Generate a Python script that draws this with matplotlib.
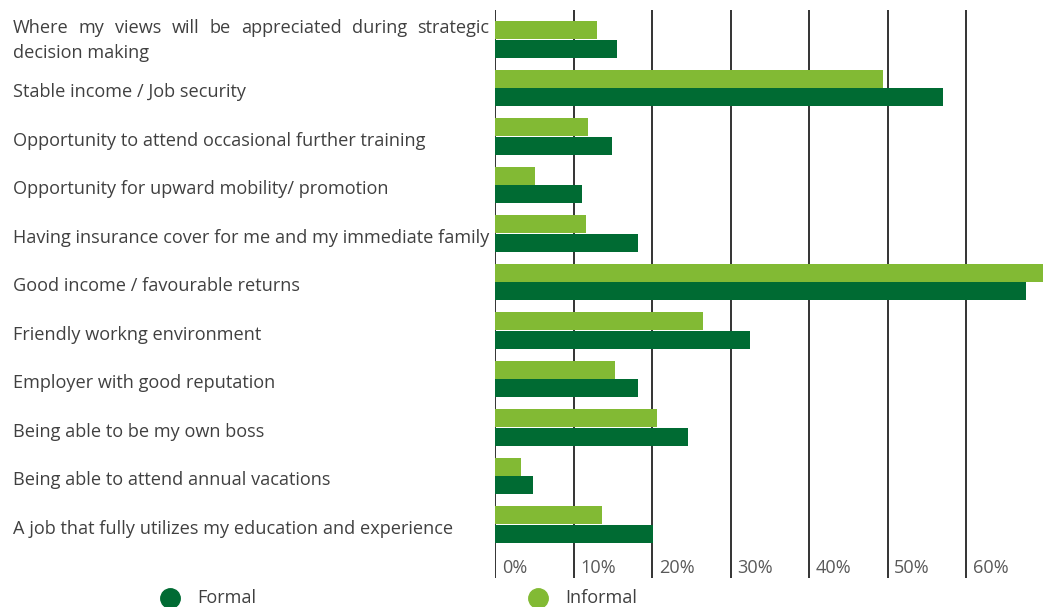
import matplotlib
matplotlib.use("Agg")
import matplotlib.pyplot as plt
import matplotlib.transforms as mtransforms
from matplotlib.lines import Line2D

# data, top to bottom
categories = [
    "Where my views will be appreciated during strategic\ndecision making",
    "Stable income / Job security",
    "Opportunity to attend occasional further training",
    "Opportunity for upward mobility/ promotion",
    "Having insurance cover for me and my immediate family",
    "Good income / favourable returns",
    "Friendly workng environment",
    "Employer with good reputation",
    "Being able to be my own boss",
    "Being able to attend annual vacations",
    "A job that fully utilizes my education and experience",
]
formal = [15.5, 57.1, 14.9, 11.1, 18.2, 67.6, 32.5, 18.2, 24.6, 4.8, 20.1]
informal = [12.9, 49.4, 11.8, 5.1, 11.5, 71.0, 26.5, 15.3, 20.6, 3.3, 13.6]
ticks = [0, 10, 20, 30, 40, 50, 60]
tick_labels = ["0%", "10%", "20%", "30%", "40%", "50%", "60%"]

DARK = "#006B33"
LIGHT = "#82BA34"
TXT = "#404040"
FONT = "Open Sans"
FS = 13.1

W, H = 1043, 607
fig = plt.figure(figsize=(W / 100, H / 100), dpi=100)
ax = fig.add_axes([495 / W, (H - 578) / H, (W - 495) / W, 568 / H])

y = list(range(len(categories)))
bh = 0.377
ax.barh([v - 0.19 for v in y], informal, height=bh, color=LIGHT, zorder=3)
ax.barh([v + 0.19 for v in y], formal, height=bh, color=DARK, zorder=3)

for t in ticks:
    ax.axvline(t, color="#333333", lw=1.4, zorder=1)

ax.set_xlim(-0.05, 69.8)
ax.set_ylim(11.103, -0.608)
ax.axis("off")

# x tick labels sit inside the gridded area, right of each line
for t, lab in zip(ticks, tick_labels):
    ax.text(t + 0.85, 11.0, lab, ha="left", va="baseline", fontsize=FS,
            color="#595959", family=FONT)

# category labels, left aligned at the figure edge
trans = mtransforms.blended_transform_factory(fig.transFigure, ax.transData)
x0, x1 = 13, 489
renderer = fig.canvas.get_renderer()
for i, cat in enumerate(categories):
    if "\n" not in cat:
        ax.text(x0 / W, i + 0.19, cat, transform=trans, ha="left", va="baseline",
                fontsize=FS, color=TXT, family=FONT)
        continue
    first, second = cat.split("\n")
    # justify the first line across the label column
    words = first.split()
    widths = []
    for w in words:
        tt = fig.text(0, 0, w, fontsize=FS, family=FONT)
        widths.append(tt.get_window_extent(renderer).width)
        tt.remove()
    gap = (x1 - x0 - sum(widths)) / (len(words) - 1)
    xp = x0
    for w, wd in zip(words, widths):
        ax.text(xp / W, i - 0.14, w, transform=trans, ha="left", va="baseline",
                fontsize=FS, color=TXT, family=FONT)
        xp += wd + gap
    ax.text(x0 / W, i + 0.38, second, transform=trans, ha="left", va="baseline",
            fontsize=FS, color=TXT, family=FONT)

# legend at the bottom
for xm, col, lab in [(170, DARK, "Formal"), (538, LIGHT, "Informal")]:
    fig.add_artist(Line2D([xm / W], [(H - 598) / H], marker="o", markersize=14,
                          color=col, transform=fig.transFigure))
    fig.text((xm + 27) / W, (H - 603) / H, lab, ha="left", va="baseline",
             fontsize=FS, color=TXT, family=FONT)

fig.savefig("out.png", dpi=100)
